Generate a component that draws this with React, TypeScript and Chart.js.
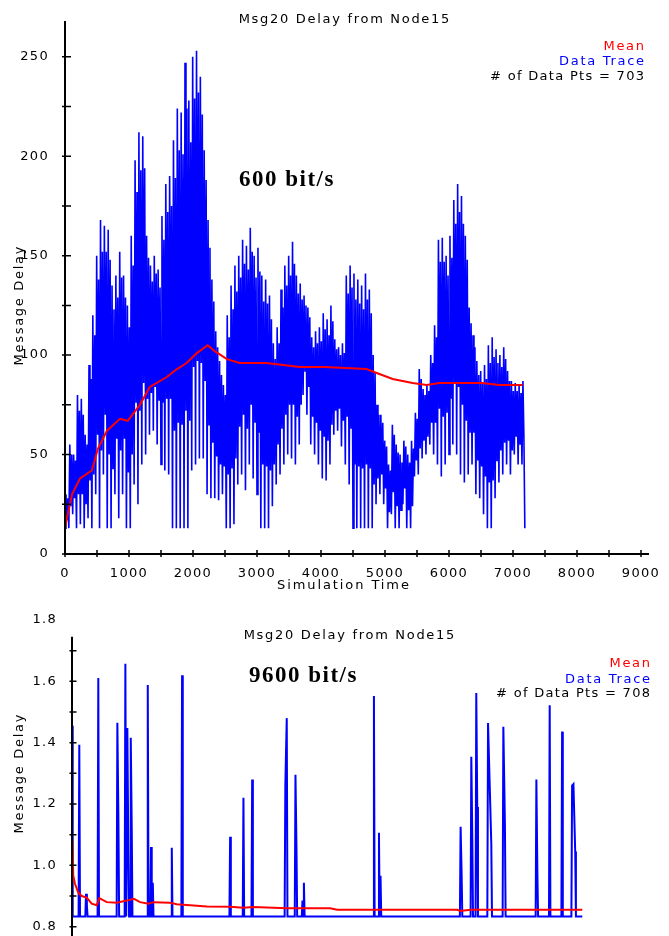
import React, { useEffect, useRef } from "react";
import { Chart, registerables } from "chart.js";

Chart.register(...registerables);

// ---------------- Top chart (600 bit/s) ----------------
const chartTitle = "Msg20 Delay from Node15";
const meanLabel = "Mean";
const traceLabel = "Data Trace";
const xAxisTitle = "Simulation Time";
const yAxisTitle = "Message Delay";

const topRateLabel = "600 bit/s";
const topPointsLabel = "# of Data Pts = 703";
// read samples of the data trace, every 15 time units from 0
const topTraceStep = 15;
const topTrace = [
  13, 30, 17, 28, 13, 55, 24, 50, 20, 50, 28, 47, 13, 80, 30, 72, 15, 78, 30, 70,
  13, 60, 25, 55, 18, 95, 37, 88, 13, 120, 40, 110, 30, 150, 60, 138, 13, 168, 52, 152,
  40, 165, 70, 152, 13, 163, 50, 148, 13, 135, 43, 123, 30, 140, 58, 129, 18, 152, 52, 139,
  30, 140, 58, 129, 13, 125, 41, 114, 13, 160, 50, 145, 35, 198, 76, 182, 25, 212, 72, 193,
  45, 210, 86, 194, 50, 160, 78, 149, 60, 145, 81, 137, 62, 150, 84, 141, 55, 143, 77, 134,
  45, 170, 76, 158, 42, 186, 78, 172, 40, 190, 78, 175, 13, 208, 62, 189, 13, 224, 66, 203,
  13, 222, 65, 201, 13, 247, 72, 224, 13, 228, 67, 207, 42, 250, 94, 229, 45, 253, 97, 232,
  48, 240, 96, 221, 48, 203, 87, 188, 30, 168, 65, 154, 28, 138, 56, 127, 28, 112, 49, 104,
  27, 97, 45, 90, 30, 85, 44, 80, 13, 120, 40, 109, 13, 135, 43, 123, 15, 145, 48, 132,
  35, 150, 64, 139, 40, 158, 70, 146, 32, 155, 63, 143, 45, 164, 75, 152, 38, 150, 66, 139,
  30, 154, 61, 142, 13, 140, 45, 127, 13, 138, 44, 126, 13, 130, 42, 118, 24, 106, 45, 98,
  35, 114, 55, 106, 40, 133, 63, 124, 45, 145, 70, 135, 50, 150, 75, 140, 48, 157, 75, 146,
  45, 140, 69, 131, 55, 136, 75, 128, 80, 130, 92, 125, 70, 124, 84, 119, 55, 109, 69, 104,
  50, 112, 66, 106, 45, 114, 62, 107, 38, 121, 59, 113, 37, 118, 57, 110, 45, 125, 65, 117,
  60, 108, 72, 103, 62, 104, 73, 100, 54, 106, 67, 101, 45, 140, 69, 131, 35, 145, 63, 134,
  13, 141, 45, 128, 13, 138, 44, 126, 13, 135, 43, 123, 13, 141, 45, 128, 13, 133, 43, 121,
  13, 100, 35, 91, 25, 75, 38, 70, 30, 70, 40, 66, 25, 57, 33, 54, 13, 45, 21, 42,
  20, 65, 31, 60, 13, 55, 24, 51, 13, 50, 22, 46, 25, 57, 33, 54, 13, 50, 22, 46,
  13, 57, 24, 53, 39, 71, 47, 68, 40, 93, 53, 88, 48, 83, 57, 80, 50, 85, 59, 82,
  55, 100, 66, 96, 50, 115, 66, 109, 45, 158, 73, 147, 39, 159, 69, 147, 45, 150, 71, 140,
  50, 160, 78, 149, 55, 178, 86, 166, 50, 186, 84, 172, 40, 180, 75, 166, 36, 160, 67, 148,
  40, 124, 61, 116, 45, 110, 61, 104, 30, 97, 47, 90, 28, 92, 44, 86, 20, 95, 39, 88,
  13, 105, 36, 96, 13, 109, 37, 99, 28, 103, 47, 96, 36, 100, 52, 94, 40, 104, 56, 98,
  45, 92, 57, 87, 40, 87, 52, 82, 50, 86, 59, 82, 45, 85, 55, 81, 45, 87, 60, 13,
];
const topMeanTimes = [
  0, 30, 110, 235, 420, 515, 655, 860, 980, 1170, 1325, 1590, 1750, 1900, 2060, 2230,
  2340, 2530, 2730, 3150, 3670, 4060, 4710, 4870, 5120, 5430, 5650, 5850, 6120, 6520, 6790, 7150,
];
const topMeanValues = [
  13, 18, 30, 38, 42, 53, 62, 68, 67, 75, 84, 89, 93, 96, 101, 105,
  102, 98, 96, 96, 94, 94, 93, 91, 88, 86, 85, 86, 86, 86, 85, 85,
];
const topXTicks = [0, 1000, 2000, 3000, 4000, 5000, 6000, 7000, 8000, 9000];
const topXMarks = [
  0, 500, 1000, 1500, 2000, 2500, 3000, 3500, 4000, 4500, 5000, 5500, 6000, 6500, 7000, 7500, 8000, 8500, 9000,
];
const topYTicks = [0, 50, 100, 150, 200, 250];
const topYMarks = [0, 25, 50, 75, 100, 125, 150, 175, 200, 225, 250];

// ---------------- Bottom chart (9600 bit/s) ----------------
const bottomRateLabel = "9600 bit/s";
const bottomPointsLabel = "# of Data Pts = 708";
const bottomTraceTimes = [
  0, 10, 93, 103, 113, 188, 198, 210, 220, 361, 371, 381,
  630, 640, 655, 665, 743, 753, 765, 781, 795, 805, 819, 829, 843, 853,
  1059, 1069, 1080, 1105, 1115, 1125, 1130, 1140, 1150, 1398, 1408, 1418, 1543, 1553, 1563,
  2221, 2231, 2241, 2409, 2419, 2429, 2532, 2542, 2552,
  3000, 3010, 3030, 3040, 3143, 3153, 3167, 3177, 3242, 3252, 3262, 3272, 3282,
  4250, 4260, 4270, 4321, 4331, 4341, 4353, 4363,
  5473, 5483, 5497, 5507, 5624, 5634, 5648, 5658, 5694, 5704, 5718, 5728,
  5860, 5870, 5892, 5916, 5926, 6076, 6086, 6108, 6118, 6542, 6552, 6566, 6576,
  6730, 6740, 6750, 6905, 6915, 6925, 7046, 7056, 7075, 7100, 7110, 7200,
];
const bottomTraceValues = [
  1.455, 0.833, 0.833, 1.393, 0.833, 0.833, 0.907, 0.87, 0.833, 0.833, 1.611, 0.833,
  0.833, 1.465, 1.145, 0.833, 0.833, 1.657, 0.833, 1.448, 1.04, 0.833, 0.833, 1.416, 1.122, 0.833,
  0.833, 1.588, 0.833, 0.833, 1.06, 0.833, 0.833, 0.943, 0.833, 0.833, 1.057, 0.833, 0.833, 1.62, 0.833,
  0.833, 1.093, 0.833, 0.833, 1.22, 0.833, 0.833, 1.28, 0.833,
  0.833, 1.26, 1.48, 0.833, 0.833, 1.295, 1.06, 0.833, 0.833, 0.885, 0.833, 0.943, 0.833,
  0.833, 1.552, 0.833, 0.833, 1.106, 0.833, 0.966, 0.833,
  0.833, 1.126, 0.976, 0.833, 0.833, 1.354, 1.09, 0.833, 0.833, 1.562, 1.19, 0.833,
  0.833, 1.464, 1.275, 1.07, 0.833, 0.833, 1.452, 1.138, 0.833, 0.833, 1.28, 0.98, 0.833,
  0.833, 1.522, 0.833, 0.833, 1.436, 0.833, 0.833, 1.26, 1.265, 1.045, 0.833, 0.833,
];
const bottomMeanTimes = [
  4, 18, 42, 89, 137, 207, 278, 349, 386, 490, 631, 772, 875, 960, 1078, 1148,
  1384, 1478, 1666, 1902, 2231, 2419, 2556, 3032, 3643, 3742, 5436, 5478, 5620, 7200,
];
const bottomMeanValues = [
  1.083, 0.966, 0.94, 0.911, 0.9, 0.895, 0.875, 0.87, 0.893, 0.88, 0.878, 0.885, 0.891, 0.88, 0.875, 0.88,
  0.878, 0.873, 0.87, 0.866, 0.865, 0.862, 0.864, 0.86, 0.86, 0.855, 0.855, 0.851, 0.855, 0.855,
];
const bottomYTicks = [0.8, 1.0, 1.2, 1.4, 1.6, 1.8];
const bottomYMarks = [0.8, 0.9, 1.0, 1.1, 1.2, 1.3, 1.4, 1.5, 1.6, 1.7];

// ---------------- styling ----------------
const SANS = "'DejaVu Sans', Verdana, sans-serif";
const SERIF = "'Liberation Serif', 'Times New Roman', serif";
const RED = "#ff0000";
const BLUE = "#0000ff";
const TEXT_SP = 1.7;
const TICK_SP = 1.3;

interface Label {
  text: string;
  x: number;
  y: number;
  font: string;
  color: string;
  align: CanvasTextAlign;
  spacing: number;
  rotate?: boolean;
}
interface Decor {
  yAxisFrom: number | null;
  yAxisExtra: number;
  xAxisTo: number | null;
  yMarks: number[];
  xMarks: number[];
  yOut: number;
  yIn: number;
  xOut: number;
  xIn: number;
  labels: Label[];
  tickSpacing: number;
}

function decorPlugin(d: Decor) {
  return {
    id: "decor",
    beforeDraw(chart: any) {
      chart.ctx.letterSpacing = d.tickSpacing + "px";
    },
    afterDraw(chart: any) {
      const ctx = chart.ctx as CanvasRenderingContext2D;
      const a = chart.chartArea;
      const xs = chart.scales.x;
      const ys = chart.scales.y;
      ctx.save();
      ctx.strokeStyle = "#000";
      ctx.lineWidth = 2;
      ctx.beginPath();
      const yTop = d.yAxisFrom == null ? a.top : ys.getPixelForValue(d.yAxisFrom);
      ctx.moveTo(a.left, yTop);
      ctx.lineTo(a.left, a.bottom + d.yAxisExtra);
      if (d.xAxisTo != null) {
        ctx.moveTo(a.left - 1, a.bottom);
        ctx.lineTo(d.xAxisTo, a.bottom);
      }
      ctx.stroke();
      ctx.lineWidth = 1.5;
      ctx.beginPath();
      for (const v of d.yMarks) {
        const p = ys.getPixelForValue(v);
        ctx.moveTo(a.left - d.yOut, p);
        ctx.lineTo(a.left + d.yIn, p);
      }
      for (const v of d.xMarks) {
        const p = xs.getPixelForValue(v);
        ctx.moveTo(p, a.bottom - d.xIn);
        ctx.lineTo(p, a.bottom + d.xOut);
      }
      ctx.stroke();
      for (const l of d.labels) {
        ctx.font = l.font;
        ctx.fillStyle = l.color;
        (ctx as any).letterSpacing = l.spacing + "px";
        ctx.textBaseline = "alphabetic";
        ctx.textAlign = l.align;
        const shift = l.align === "right" ? l.spacing : l.align === "center" ? l.spacing / 2 : 0;
        if (l.rotate) {
          ctx.save();
          ctx.translate(l.x, l.y);
          ctx.rotate(-Math.PI / 2);
          ctx.fillText(l.text, shift, 0);
          ctx.restore();
        } else {
          ctx.fillText(l.text, l.x + shift, l.y);
        }
      }
      ctx.restore();
    },
  };
}

const tickFont = { family: SANS, size: 13 };
const textFont = `13px ${SANS}`;
const rateFont = `bold 23px ${SERIF}`;

function topConfig(): any {
  return {
    type: "line",
    data: {
      datasets: [
        {
          label: meanLabel,
          data: topMeanTimes.map((t, i) => ({ x: t, y: topMeanValues[i] })),
          borderColor: RED,
          borderWidth: 2,
          pointRadius: 0,
          tension: 0,
        },
        {
          label: traceLabel,
          data: topTrace.map((v, i) => ({ x: i * topTraceStep, y: v })),
          borderColor: BLUE,
          borderWidth: 1.6,
          pointRadius: 0,
          tension: 0,
        },
      ],
    },
    options: {
      responsive: false,
      animation: false,
      events: [],
      layout: { padding: { top: 21, right: 28, left: 0, bottom: 0 } },
      plugins: { legend: { display: false }, tooltip: { enabled: false }, title: { display: false } },
      scales: {
        x: {
          type: "linear",
          min: 0,
          max: 9000,
          grid: { display: false },
          border: { display: false },
          ticks: { font: tickFont, color: "#000", padding: 4, maxRotation: 0, autoSkip: false, callback: (v: number) => String(v) },
          afterBuildTicks: (s: any) => {
            s.ticks = topXTicks.map((value) => ({ value }));
          },
          afterFit: (s: any) => {
            s.height = 46;
            s.paddingLeft = 0;
            s.paddingRight = 0;
          },
        },
        y: {
          type: "linear",
          min: 0,
          max: 268,
          grid: { display: false },
          border: { display: false },
          ticks: { font: tickFont, color: "#000", padding: 8, autoSkip: false, callback: (v: number) => String(v) },
          afterBuildTicks: (s: any) => {
            s.ticks = topYTicks.map((value) => ({ value }));
          },
          afterFit: (s: any) => {
            s.width = 65;
            s.paddingTop = 0;
            s.paddingBottom = 0;
          },
        },
      },
    },
    plugins: [
      decorPlugin({
        yAxisFrom: null,
        yAxisExtra: 0,
        xAxisTo: 649,
        yMarks: topYMarks,
        xMarks: topXMarks,
        yOut: 3,
        yIn: 6,
        xOut: 3,
        xIn: 4,
        tickSpacing: TICK_SP,
        labels: [
          { text: chartTitle, x: 344, y: 23, font: textFont, color: "#000", align: "center", spacing: TEXT_SP },
          { text: meanLabel, x: 644, y: 50, font: textFont, color: RED, align: "right", spacing: TEXT_SP },
          { text: traceLabel, x: 644, y: 65, font: textFont, color: BLUE, align: "right", spacing: TEXT_SP },
          { text: topPointsLabel, x: 644, y: 80, font: textFont, color: "#000", align: "right", spacing: 1.3 },
          { text: topRateLabel, x: 239, y: 186, font: rateFont, color: "#000", align: "left", spacing: 1.5 },
          { text: xAxisTitle, x: 343, y: 589, font: textFont, color: "#000", align: "center", spacing: 1.9 },
          { text: yAxisTitle, x: 23, y: 306, font: textFont, color: "#000", align: "center", spacing: TEXT_SP, rotate: true },
        ],
      }),
    ],
  };
}

function bottomConfig(): any {
  return {
    type: "line",
    data: {
      datasets: [
        {
          label: meanLabel,
          data: bottomMeanTimes.map((t, i) => ({ x: t, y: bottomMeanValues[i] })),
          borderColor: RED,
          borderWidth: 2,
          pointRadius: 0,
          tension: 0,
        },
        {
          label: traceLabel,
          data: bottomTraceTimes.map((t, i) => ({ x: t, y: bottomTraceValues[i] })),
          borderColor: BLUE,
          borderWidth: 2,
          pointRadius: 0,
          tension: 0,
        },
      ],
    },
    options: {
      responsive: false,
      animation: false,
      events: [],
      layout: { padding: { top: 20, right: 30, left: 0, bottom: 58 } },
      plugins: { legend: { display: false }, tooltip: { enabled: false }, title: { display: false } },
      scales: {
        x: { type: "linear", min: 0, max: 8000, display: false },
        y: {
          type: "linear",
          min: 0.75,
          max: 1.8,
          grid: { display: false },
          border: { display: false },
          ticks: { font: tickFont, color: "#000", padding: 7, autoSkip: false, callback: (v: number) => Number(v).toFixed(1) },
          afterBuildTicks: (s: any) => {
            s.ticks = bottomYTicks.map((value) => ({ value }));
          },
          afterFit: (s: any) => {
            s.width = 72;
            s.paddingTop = 0;
            s.paddingBottom = 0;
          },
        },
      },
    },
    plugins: [
      decorPlugin({
        yAxisFrom: 1.745,
        yAxisExtra: 20,
        xAxisTo: null,
        yMarks: bottomYMarks,
        xMarks: [],
        yOut: 2.5,
        yIn: 4.5,
        xOut: 0,
        xIn: 0,
        tickSpacing: TICK_SP,
        labels: [
          { text: chartTitle, x: 349, y: 39, font: textFont, color: "#000", align: "center", spacing: TEXT_SP },
          { text: meanLabel, x: 650, y: 67, font: textFont, color: RED, align: "right", spacing: TEXT_SP },
          { text: traceLabel, x: 650, y: 83, font: textFont, color: BLUE, align: "right", spacing: TEXT_SP },
          { text: bottomPointsLabel, x: 650, y: 97, font: textFont, color: "#000", align: "right", spacing: 1.3 },
          { text: bottomRateLabel, x: 249, y: 82, font: rateFont, color: "#000", align: "left", spacing: 1.5 },
          { text: yAxisTitle, x: 23, y: 174, font: textFont, color: "#000", align: "center", spacing: TEXT_SP, rotate: true },
        ],
      }),
    ],
  };
}

export default function App() {
  const topRef = useRef<HTMLCanvasElement>(null);
  const bottomRef = useRef<HTMLCanvasElement>(null);

  useEffect(() => {
    const top = new Chart(topRef.current as HTMLCanvasElement, topConfig());
    const bottom = new Chart(bottomRef.current as HTMLCanvasElement, bottomConfig());
    return () => {
      top.destroy();
      bottom.destroy();
    };
  }, []);

  return (
    <div
      style={{
        position: "fixed",
        left: 0,
        top: 0,
        width: 669,
        height: 936,
        overflow: "hidden",
        background: "#fff",
      }}
    >
      <canvas
        ref={topRef}
        width={669}
        height={600}
        style={{ position: "absolute", left: 0, top: 0, width: 669, height: 600 }}
      />
      <canvas
        ref={bottomRef}
        width={669}
        height={400}
        style={{ position: "absolute", left: 0, top: 600, width: 669, height: 400 }}
      />
    </div>
  );
}
